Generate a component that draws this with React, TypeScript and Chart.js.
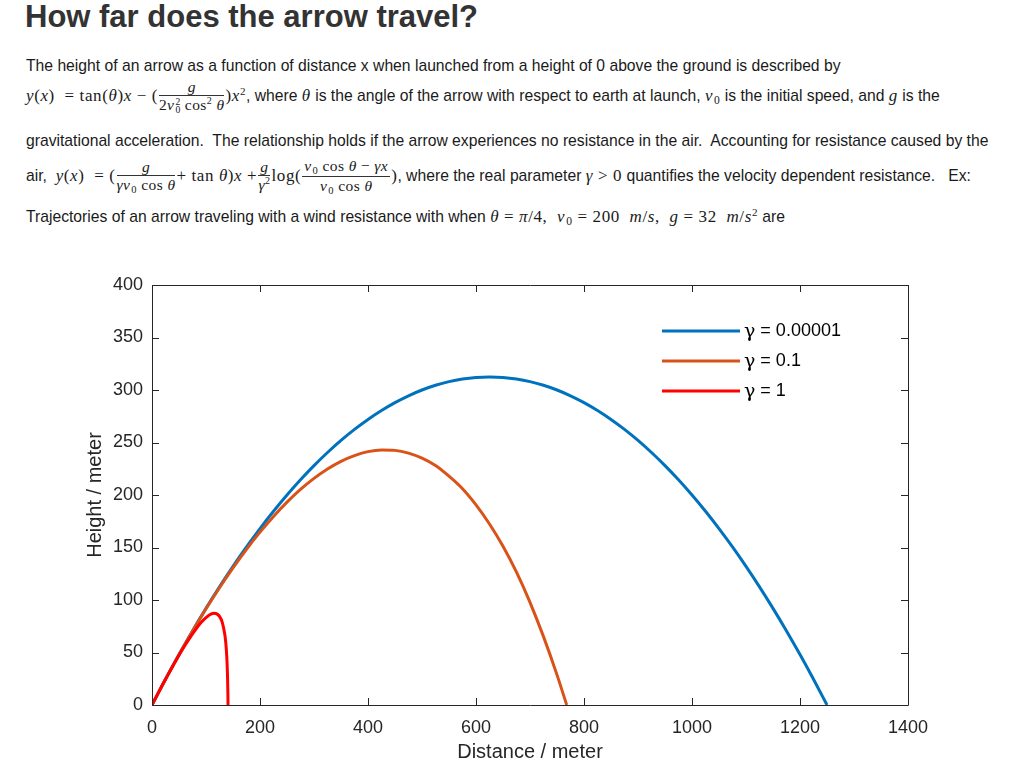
import React, { useEffect, useRef } from "react";
import { Chart, registerables } from "chart.js";

Chart.register(...registerables);

// ---- data ----
const legendValues = ["0.00001", "0.1", "1"];
const seriesColors = ["#0072BD", "#D95319", "#FF0000"];

const blueX = [0, 25, 50, 75, 100, 125, 150, 175, 200, 225, 250, 275, 300, 325, 350, 375, 400, 425, 450, 475, 500, 525, 550, 575, 600, 625, 650, 675, 700, 725, 750, 775, 800, 825, 850, 875, 900, 925, 950, 975, 1000, 1025, 1050, 1075, 1100, 1125, 1150, 1175, 1200, 1225, 1250];
const blueY = [0, 24.5, 48, 70.5, 92, 112.5, 132, 150.5, 168, 184.5, 200, 214.5, 228, 240.5, 252, 262.5, 272, 280.5, 288, 294.5, 300, 304.5, 308, 310.5, 312, 312.5, 312, 310.5, 308, 304.5, 300, 294.5, 288, 280.5, 272, 262.5, 252, 240.5, 228, 214.5, 200, 184.5, 168, 150.5, 132, 112.5, 92, 70.5, 48, 24.5, 0];

const orangeX = [0, 25, 50, 75, 100, 125, 150, 175, 200, 225, 250, 275, 300, 325, 350, 375, 400, 425, 450, 475, 500, 525, 550, 575, 600, 625, 650, 675, 700, 725, 750, 768];
const orangeY = [0, 24.5, 47.9, 70.3, 91.6, 111.7, 130.6, 148.3, 164.6, 179.6, 193.2, 205.3, 215.8, 224.8, 232.1, 237.5, 241.3, 242.9, 242.5, 239.9, 235.1, 228.1, 217.9, 206, 190.6, 172.4, 151.2, 126.5, 97.8, 65.1, 28.7, 0];

const redX = [0, 10, 20, 30, 40, 50, 60, 70, 80, 90, 100, 110, 115, 120, 125, 130, 135, 136, 137, 138, 139, 140, 140.5, 140.8];
const redY = [0, 9.9, 19.7, 29.2, 38.4, 47.4, 55.9, 64, 71.4, 78, 83.3, 86.8, 87.3, 86.8, 84.4, 78.9, 66.6, 62.4, 57.1, 50.1, 40.3, 24.5, 11.2, 0];

const xTickMin = 0;
const xTickMax = 1400;
const xTickStep = 200;
const yTickMin = 0;
const yTickMax = 400;
const yTickStep = 50;

const xTitle = "Distance / meter";
const yTitle = "Height / meter";

const AXIS_COLOR = "#262626";
const SANS = "'Liberation Sans', Arial, Helvetica, sans-serif";
const SERIF = "'Liberation Serif', 'Times New Roman', serif";

function toPoints(xs: number[], ys: number[]) {
  return xs.map((x, i) => ({ x, y: ys[i] }));
}

const matlabAxesPlugin = {
  id: "matlabAxes",
  afterDatasetsDraw(chart: any) {
    const { ctx, chartArea, scales } = chart;
    const { left, right, top, bottom } = chartArea;
    const tick = 7;
    ctx.save();
    ctx.strokeStyle = AXIS_COLOR;
    ctx.lineWidth = 1;
    ctx.beginPath();
    ctx.rect(Math.round(left) + 0.5, Math.round(top) + 0.5, Math.round(right - left), Math.round(bottom - top));
    ctx.stroke();
    ctx.beginPath();
    scales.x.ticks.forEach((t: any) => {
      const px = Math.round(scales.x.getPixelForValue(t.value)) + 0.5;
      ctx.moveTo(px, bottom);
      ctx.lineTo(px, bottom - tick);
      ctx.moveTo(px, top);
      ctx.lineTo(px, top + tick);
    });
    scales.y.ticks.forEach((t: any) => {
      const py = Math.round(scales.y.getPixelForValue(t.value)) + 0.5;
      ctx.moveTo(left, py);
      ctx.lineTo(left + tick, py);
      ctx.moveTo(right, py);
      ctx.lineTo(right - tick, py);
    });
    ctx.stroke();

    // axis titles
    ctx.fillStyle = AXIS_COLOR;
    ctx.font = `20px ${SANS}`;
    ctx.textAlign = "center";
    ctx.textBaseline = "middle";
    ctx.fillText(xTitle, (left + right) / 2, bottom + 47);
    ctx.save();
    ctx.translate(left - 57, (top + bottom) / 2);
    ctx.rotate(-Math.PI / 2);
    ctx.fillText(yTitle, 0, 0);
    ctx.restore();

    // legend
    const lx0 = left + 510;
    const lx1 = left + 588;
    ctx.textAlign = "left";
    chart.data.datasets.forEach((ds: any, i: number) => {
      const ly = top + 46 + i * 30;
      ctx.strokeStyle = ds.borderColor;
      ctx.lineWidth = 3;
      ctx.beginPath();
      ctx.moveTo(lx0, ly);
      ctx.lineTo(lx1, ly);
      ctx.stroke();
      ctx.fillStyle = "#000";
      ctx.font = `19px 'DejaVu Serif', ${SERIF}`;
      const g = "\u03b3";
      ctx.fillText(g, lx1 + 4, ly + 1);
      const gw = ctx.measureText(g).width;
      ctx.font = `18px ${SANS}`;
      ctx.fillText(" = " + legendValues[i], lx1 + 4 + gw, ly);
    });
    ctx.restore();
  },
};

function ArrowChart() {
  const ref = useRef<HTMLCanvasElement | null>(null);
  useEffect(() => {
    if (!ref.current) return;
    const series = [
      { xs: blueX, ys: blueY },
      { xs: orangeX, ys: orangeY },
      { xs: redX, ys: redY },
    ];
    const chart = new Chart(ref.current, {
      type: "line",
      data: {
        datasets: series.map((s, i) => ({
          label: "\u03b3 = " + legendValues[i],
          data: toPoints(s.xs, s.ys),
          borderColor: seriesColors[i],
          backgroundColor: seriesColors[i],
          borderWidth: 3,
          pointRadius: 0,
          fill: false,
          cubicInterpolationMode: "monotone" as const,
          order: 2 - i,
        })),
      },
      options: {
        animation: false,
        responsive: false,
        maintainAspectRatio: false,
        layout: { padding: { left: 0, right: 116, top: 35, bottom: 0 } },
        plugins: { legend: { display: false }, tooltip: { enabled: false } },
        scales: {
          x: {
            type: "linear",
            min: xTickMin,
            max: xTickMax,
            grid: { display: false, drawTicks: false },
            border: { display: false },
            ticks: {
              stepSize: xTickStep,
              color: AXIS_COLOR,
              font: { family: SANS, size: 18 },
              padding: 12,
              maxRotation: 0,
              callback: (v: any) => String(v),
            },
            afterFit(scale: any) {
              scale.height = 70;
            },
          },
          y: {
            type: "linear",
            min: yTickMin,
            max: yTickMax,
            grid: { display: false, drawTicks: false },
            border: { display: false },
            ticks: {
              stepSize: yTickStep,
              color: AXIS_COLOR,
              font: { family: SANS, size: 18 },
              padding: 9,
              callback: (v: any) => String(v),
            },
            afterFit(scale: any) {
              scale.width = 152;
            },
          },
        },
      },
      plugins: [matlabAxesPlugin],
    } as any);
    return () => chart.destroy();
  }, []);
  return (
    <canvas
      ref={ref}
      width={1024}
      height={525}
      style={{ position: "absolute", left: 0, top: 250, width: 1024, height: 525 }}
    />
  );
}

const MATH_SIZE = 17;
const TEXT_SIZE = 15.7;

const M = ({ children }: { children: React.ReactNode }) => (
  <span style={{ fontFamily: SERIF, fontSize: MATH_SIZE, letterSpacing: 0.6 }}>{children}</span>
);

const T = ({ children }: { children: React.ReactNode }) => (
  <span style={{ fontFamily: SANS, fontSize: TEXT_SIZE }}>{children}</span>
);

const Frac = ({ num, den }: { num: React.ReactNode; den: React.ReactNode }) => (
  <span
    style={{
      display: "inline-flex",
      flexDirection: "column",
      alignItems: "stretch",
      fontFamily: SERIF,
      fontSize: 15.5,
      lineHeight: "15px",
      margin: "0 1px",
      letterSpacing: 0.4,
    }}
  >
    <span style={{ textAlign: "center", borderBottom: "1px solid #333", padding: "0 2px 1px" }}>{num}</span>
    <span style={{ textAlign: "center", paddingTop: 1 }}>{den}</span>
  </span>
);

const V0 = ({ sq }: { sq?: boolean }) =>
  sq ? (
    <span style={{ whiteSpace: "nowrap" }}>
      <i>v</i>
      <span
        style={{
          display: "inline-block",
          fontSize: "0.62em",
          lineHeight: "8px",
          verticalAlign: "-3px",
          marginLeft: 1,
        }}
      >
        <span style={{ display: "block" }}>2</span>
        <span style={{ display: "block" }}>0</span>
      </span>
    </span>
  ) : (
    <span style={{ whiteSpace: "nowrap" }}>
      <i>v</i>
      <span style={{ fontSize: "0.68em", position: "relative", top: 3, marginLeft: 1 }}>0</span>
    </span>
  );

const Sup = ({ children }: { children: React.ReactNode }) => (
  <span style={{ fontSize: "0.65em", position: "relative", top: -6 }}>{children}</span>
);

const Line = ({ cy, h, children }: { cy: number; h: number; children: React.ReactNode }) => (
  <div
    style={{
      position: "absolute",
      left: 26,
      top: cy - h / 2,
      height: h,
      display: "flex",
      alignItems: "center",
      whiteSpace: "pre",
      color: "#1a1a1a",
    }}
  >
    {children}
  </div>
);

export default function App() {
  return (
    <div style={{ position: "absolute", left: 0, top: 0, width: 1024, height: 775, overflow: "hidden", background: "#fff" }}>
      <div
        style={{
          position: "absolute",
          left: 25,
          top: 0,
          height: 34,
          display: "flex",
          alignItems: "center",
          fontFamily: SANS,
          fontWeight: "bold",
          fontSize: 31,
          color: "#333",
          whiteSpace: "pre",
        }}
      >
        How far does the arrow travel?
      </div>

      <Line cy={66} h={20}>
        <T>The height of an arrow as a function of distance x when launched from a height of 0 above the ground is described by</T>
      </Line>

      <Line cy={96} h={36}>
        <M>
          <i>y</i>(<i>x</i>)  = tan(<i>θ</i>)<i>x</i> − (
        </M>
        <Frac
          num={<i>g</i>}
          den={
            <>
              2<V0 sq /> cos<Sup>2</Sup> <i>θ</i>
            </>
          }
        />
        <M>
          )<i>x</i>
          <Sup>2</Sup>
        </M>
        <T>, where </T>
        <M>
          <i>θ</i>
        </M>
        <T> is the angle of the arrow with respect to earth at launch, </T>
        <M>
          <V0 />
        </M>
        <T> is the initial speed, and </T>
        <M>
          <i>g</i>
        </M>
        <T> is the</T>
      </Line>

      <Line cy={141} h={20}>
        <T>gravitational acceleration.  The relationship holds if the arrow experiences no resistance in the air.  Accounting for resistance caused by the</T>
      </Line>

      <Line cy={176} h={38}>
        <T>air,  </T>
        <M>
          <i>y</i>(<i>x</i>)  = (
        </M>
        <Frac
          num={<i>g</i>}
          den={
            <>
              <i>γ</i>
              <V0 /> cos <i>θ</i>
            </>
          }
        />
        <M>
          + tan <i>θ</i>)<i>x</i> +
        </M>
        <Frac
          num={<i>g</i>}
          den={
            <>
              <i>γ</i>
              <Sup>2</Sup>
            </>
          }
        />
        <M>log(</M>
        <Frac
          num={
            <>
              <V0 /> cos <i>θ</i> − <i>γx</i>
            </>
          }
          den={
            <>
              <V0 /> cos <i>θ</i>
            </>
          }
        />
        <M>)</M>
        <T>, where the real parameter </T>
        <M>
          <i>γ</i> &gt; 0
        </M>
        <T> quantifies the velocity dependent resistance.   Ex:</T>
      </Line>

      <Line cy={217} h={24}>
        <T>Trajectories of an arrow traveling with a wind resistance with when </T>
        <M>
          <i>θ</i> = <i>π</i>/4,  <V0 /> = 200  <i>m</i>/<i>s</i>,  <i>g</i> = 32  <i>m</i>/<i>s</i>
          <Sup>2</Sup>
        </M>
        <T> are</T>
      </Line>

      <ArrowChart />
    </div>
  );
}
